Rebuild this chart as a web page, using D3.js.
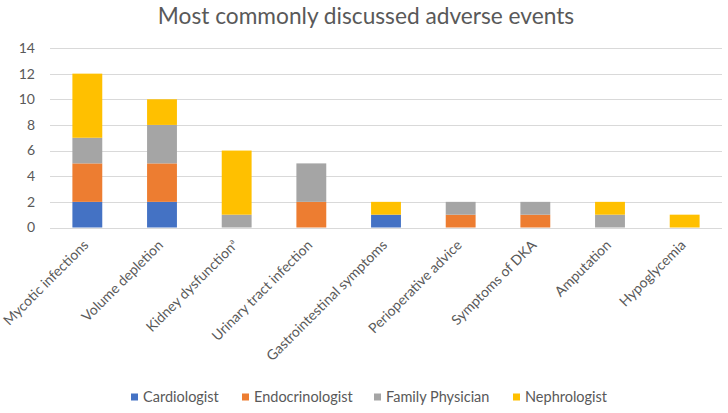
<!DOCTYPE html>
<html><head><meta charset="utf-8">
<script src="https://cdn.jsdelivr.net/npm/d3@7"></script>
<style>body{margin:0;background:#fff}svg{display:block}text{font-family:Lato,"Open Sans",sans-serif}</style>
</head><body>
<svg id="c" width="728" height="413"></svg>
<script>
const categories = ["Mycotic infections","Volume depletion","Kidney dysfunction","Urinary tract infection","Gastrointestinal symptoms","Perioperative advice","Symptoms of DKA","Amputation","Hypoglycemia"];
const seriesNames = ["Cardiologist","Endocrinologist","Family Physician","Nephrologist"];
const cardiologist   = [2,2,0,0,1,0,0,0,0];
const endocrinologist= [3,3,0,2,0,1,1,0,0];
const familyPhysician= [2,3,1,3,0,1,1,1,0];
const nephrologist   = [5,2,5,0,1,0,0,1,1];
const yTicks = [0,2,4,6,8,10,12,14];
const colors = ["#4472C4","#ED7D31","#A5A5A5","#FFC000"];

const svg = d3.select("#c");
const x = d3.scaleBand().domain(categories).range([50,722]).paddingInner(0.6).paddingOuter(0.3);
const y = d3.scaleLinear().domain([0,14]).range([227.5,48]);

const rows = categories.map((c,i)=>({cat:c,Cardiologist:cardiologist[i],Endocrinologist:endocrinologist[i],"Family Physician":familyPhysician[i],Nephrologist:nephrologist[i]}));
const stack = d3.stack().keys(seriesNames)(rows);

svg.append("text").attr("x",366).attr("y",24).attr("text-anchor","middle")
  .attr("font-size",22.7).attr("fill","#595959").text("Most commonly discussed adverse events");

// grid
svg.append("g").selectAll("line").data(yTicks).join("line")
  .attr("x1",50).attr("x2",722).attr("y1",d=>Math.round(y(d))+0.5).attr("y2",d=>Math.round(y(d))+0.5)
  .attr("stroke","#d9d9d9").attr("stroke-width",1);
svg.append("g").selectAll("text").data(yTicks).join("text")
  .attr("x",35).attr("y",d=>y(d)).attr("dy","0.35em").attr("text-anchor","end")
  .attr("font-size",14).attr("fill","#595959").text(d=>d);

// bars
svg.append("g").selectAll("g").data(stack).join("g").attr("fill",(d,i)=>colors[i])
  .selectAll("rect").data(d=>d).join("rect")
  .attr("x",d=>x(d.data.cat)).attr("width",x.bandwidth())
  .attr("y",d=>y(d[1])).attr("height",d=>y(d[0])-y(d[1]));

// x labels
const xl = svg.append("g").selectAll("text").data(categories).join("text")
  .attr("text-anchor","end").attr("font-size",14).attr("fill","#595959")
  .attr("transform",d=>`translate(${x(d)+x.bandwidth()/2+2},${246}) rotate(-45)`);
xl.text(d=>d);
xl.filter(d=>d==="Kidney dysfunction").append("tspan").attr("font-size",8).attr("dy","-0.7em").text("a");

// legend
const lx=[131,242,374,513];
const lg = svg.append("g").selectAll("g").data(seriesNames).join("g")
  .attr("transform",(d,i)=>`translate(${lx[i]},397)`);
lg.append("rect").attr("x",0).attr("y",-3.5).attr("width",7).attr("height",7).attr("fill",(d,i)=>colors[i]);
lg.append("text").attr("x",12).attr("dy","0.35em").attr("font-size",14.5).attr("fill","#595959").text(d=>d);
</script>
</body></html>
